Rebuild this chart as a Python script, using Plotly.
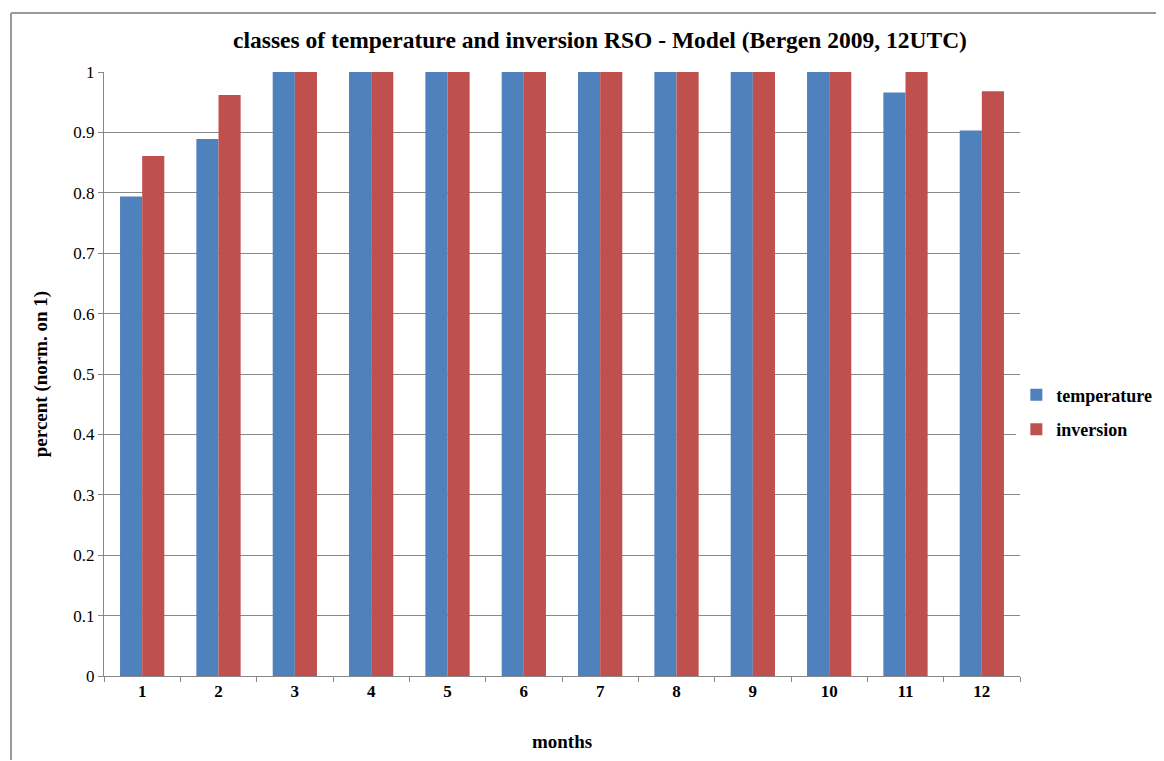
import plotly.graph_objects as go

months = ["1", "2", "3", "4", "5", "6", "7", "8", "9", "10", "11", "12"]
temperature = [0.794, 0.889, 1, 1, 1, 1, 1, 1, 1, 1, 0.966, 0.903]
inversion = [0.861, 0.962, 1, 1, 1, 1, 1, 1, 1, 1, 1, 0.968]
y_ticks = [0, 0.1, 0.2, 0.3, 0.4, 0.5, 0.6, 0.7, 0.8, 0.9, 1]
y_tick_labels = ["0", "0.1", "0.2", "0.3", "0.4", "0.5", "0.6", "0.7", "0.8", "0.9", "1"]

font_family = "Liberation Serif"

fig = go.Figure()
fig.add_trace(go.Bar(x=months, y=temperature, name="<b>temperature</b>", legendgroup="t",
                     marker=dict(color="#4F81BD", line=dict(width=0))))
fig.add_trace(go.Bar(x=months, y=inversion, name="<b>inversion</b>", legendgroup="i",
                     marker=dict(color="#C0504D", line=dict(width=0))))

# page body has an 8px margin, so the figure is offset by 8px
fig.update_layout(
    width=1156, height=753,
    margin=dict(l=96, r=144, t=64, b=85, autoexpand=False),
    paper_bgcolor="white", plot_bgcolor="white",
    barmode="group", bargap=0.42, bargroupgap=0,
    font=dict(family=font_family, color="black"),
    title=dict(text="<b>classes of temperature and inversion RSO - Model (Bergen 2009, 12UTC)</b>",
               x=(600 - 8) / 1156, xanchor="center", y=1 - 32 / 753, yanchor="middle",
               font=dict(size=23.5, family=font_family)),
    legend=dict(x=0.996, xanchor="left", y=0.437, yanchor="middle",
                font=dict(size=18, family=font_family), itemsizing="constant",
                itemwidth=30, tracegroupgap=8, traceorder="grouped"),
    showlegend=True,
)
fig.update_xaxes(
    type="category", tickson="boundaries", ticks="outside", ticklen=5,
    tickcolor="#888888", showline=True, linecolor="#888888", linewidth=1,
    tickfont=dict(size=17, family=font_family), automargin=False,
    title=dict(text="<b>months</b>", font=dict(size=19, family=font_family), standoff=34),
    tickprefix="<b>", ticksuffix="</b>",
)
fig.update_yaxes(
    range=[0, 1], tickvals=y_ticks, ticktext=y_tick_labels, ticks="outside", ticklen=5,
    tickcolor="#888888", showline=True, linecolor="#888888", linewidth=1,
    showgrid=True, gridcolor="#888888", gridwidth=1, zeroline=False,
    tickfont=dict(size=17, family=font_family), automargin=False,
    tickprefix="<b>", ticksuffix="</b>",
    title=dict(text="<b>percent (norm. on 1)</b>", font=dict(size=19, family=font_family), standoff=20),
)
# chart frame: only top and left edges are visible in the reference
top_y = (676 - 13) / 604
left_x = (11 - 104) / 916
fig.add_shape(type="line", xref="paper", yref="paper",
              x0=left_x, x1=(1162 - 104) / 916, y0=top_y, y1=top_y,
              line=dict(color="#999999", width=2), layer="above")
fig.add_shape(type="line", xref="paper", yref="paper",
              x0=left_x, x1=left_x, y0=top_y, y1=-(760 - 676) / 604,
              line=dict(color="#999999", width=2), layer="above")

fig.write_html("out.html", config={"displayModeBar": False})
